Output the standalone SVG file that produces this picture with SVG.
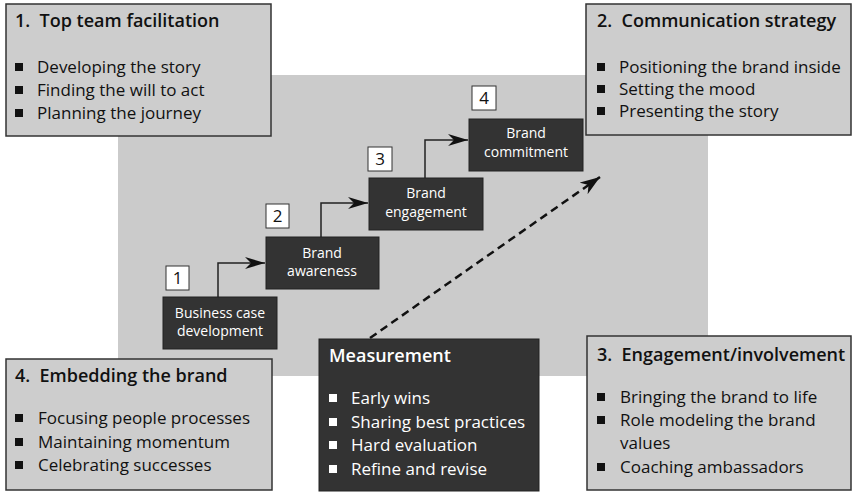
<svg xmlns="http://www.w3.org/2000/svg" width="854" height="493" viewBox="0 0 854 493">
<defs>
<style>
.bg{fill:#cbcbcb}
.box{fill:#cdcdcd;stroke:#333;stroke-width:1.5}
.dark{fill:#333;stroke:#222;stroke-width:1}
.num{fill:#fff;stroke:#333;stroke-width:1}
.t{font-family:"Open Sans","Noto Sans",sans-serif;fill:#111}
.ti{font-size:18px;font-weight:600;white-space:pre}
.b{font-size:17px}
.w{fill:#fff}
.s{font-size:14px;fill:#fff;text-anchor:middle}
.n{font-size:17px;text-anchor:middle}
.bul{fill:#111}
.bulw{fill:#fff}
.con{fill:none;stroke:#222;stroke-width:1.5}
.dash{fill:none;stroke:#111;stroke-width:2.5;stroke-dasharray:8,5}
</style>
<marker id="ah" viewBox="0 0 20 12" refX="20" refY="6" markerWidth="20" markerHeight="12" markerUnits="userSpaceOnUse" orient="auto">
<path d="M0,0 L20,6 L0,12 L6,6 z" fill="#111"/>
</marker>
<marker id="ah2" viewBox="0 0 20 14" refX="20" refY="7" markerWidth="20" markerHeight="14" markerUnits="userSpaceOnUse" orient="auto">
<path d="M0,0 L20,7 L0,14 L6,7 z" fill="#111"/>
</marker>
</defs>
<rect class="bg" x="118" y="75" width="590" height="301"/>

<g id="connectors">
<path class="con" d="M218,297 V263 H265" marker-end="url(#ah)"/>
<path class="con" d="M321,237 V203 H368" marker-end="url(#ah)"/>
<path class="con" d="M425,178 V140 H468" marker-end="url(#ah)"/>
<path class="dash" d="M370,338 L600,177" marker-end="url(#ah2)"/>
</g>

<g id="step1">
<rect class="dark" x="163" y="297" width="114" height="52"/>
<text class="t s" x="220" y="318">Business case</text>
<text class="t s" x="220" y="336">development</text>
<rect class="num" x="166" y="266" width="23" height="24"/>
<text class="t n" x="177.5" y="284">1</text>
</g>
<g id="step2">
<rect class="dark" x="266" y="237" width="113" height="52"/>
<text class="t s" x="322" y="258">Brand</text>
<text class="t s" x="322" y="276">awareness</text>
<rect class="num" x="266" y="204" width="23" height="24"/>
<text class="t n" x="277.5" y="222">2</text>
</g>
<g id="step3">
<rect class="dark" x="369" y="178" width="114" height="52"/>
<text class="t s" x="426" y="198">Brand</text>
<text class="t s" x="426" y="217">engagement</text>
<rect class="num" x="368" y="147" width="24" height="24"/>
<text class="t n" x="380" y="165">3</text>
</g>
<g id="step4">
<rect class="dark" x="469" y="119" width="114" height="52"/>
<text class="t s" x="526" y="138">Brand</text>
<text class="t s" x="526" y="157">commitment</text>
<rect class="num" x="472" y="86" width="24" height="24"/>
<text class="t n" x="484" y="104">4</text>
</g>

<g id="box1">
<rect class="box" x="6" y="4" width="265" height="132"/>
<text class="t ti" x="15" y="27">1.  Top team facilitation</text>
<rect class="bul" x="15" y="63" width="8" height="8"/>
<text class="t b" x="37" y="73">Developing the story</text>
<rect class="bul" x="15" y="86" width="8" height="8"/>
<text class="t b" x="37" y="96">Finding the will to act</text>
<rect class="bul" x="15" y="109" width="8" height="8"/>
<text class="t b" x="37" y="119">Planning the journey</text>
</g>

<g id="box2">
<rect class="box" x="586" y="4" width="265" height="131"/>
<text class="t ti" x="597" y="27">2.  Communication strategy</text>
<rect class="bul" x="597" y="63" width="8" height="8"/>
<text class="t b" x="619" y="73">Positioning the brand inside</text>
<rect class="bul" x="597" y="85" width="8" height="8"/>
<text class="t b" x="619" y="95">Setting the mood</text>
<rect class="bul" x="597" y="107" width="8" height="8"/>
<text class="t b" x="619" y="117">Presenting the story</text>
</g>

<g id="box3">
<rect class="box" x="587" y="336" width="264" height="154"/>
<text class="t ti" x="597" y="361">3.  Engagement/involvement</text>
<rect class="bul" x="597" y="393" width="8" height="8"/>
<text class="t b" x="620" y="403">Bringing the brand to life</text>
<rect class="bul" x="597" y="416" width="8" height="8"/>
<text class="t b" x="620" y="426">Role modeling the brand</text>
<text class="t b" x="620" y="449">values</text>
<rect class="bul" x="597" y="463" width="8" height="8"/>
<text class="t b" x="620" y="473">Coaching ambassadors</text>
</g>

<g id="box4">
<rect class="box" x="6" y="359" width="266" height="131"/>
<text class="t ti" x="15" y="382">4.  Embedding the brand</text>
<rect class="bul" x="15" y="414" width="8" height="8"/>
<text class="t b" x="38" y="424">Focusing people processes</text>
<rect class="bul" x="15" y="438" width="8" height="8"/>
<text class="t b" x="38" y="448">Maintaining momentum</text>
<rect class="bul" x="15" y="461" width="8" height="8"/>
<text class="t b" x="38" y="471">Celebrating successes</text>
</g>

<g id="measurement">
<rect class="dark" x="319" y="339" width="220" height="152"/>
<text class="t ti w" x="329" y="362">Measurement</text>
<rect class="bulw" x="329" y="394" width="8" height="8"/>
<text class="t b w" x="351" y="404">Early wins</text>
<rect class="bulw" x="329" y="418" width="8" height="8"/>
<text class="t b w" x="351" y="428">Sharing best practices</text>
<rect class="bulw" x="329" y="441" width="8" height="8"/>
<text class="t b w" x="351" y="451">Hard evaluation</text>
<rect class="bulw" x="329" y="465" width="8" height="8"/>
<text class="t b w" x="351" y="475">Refine and revise</text>
</g>
</svg>
